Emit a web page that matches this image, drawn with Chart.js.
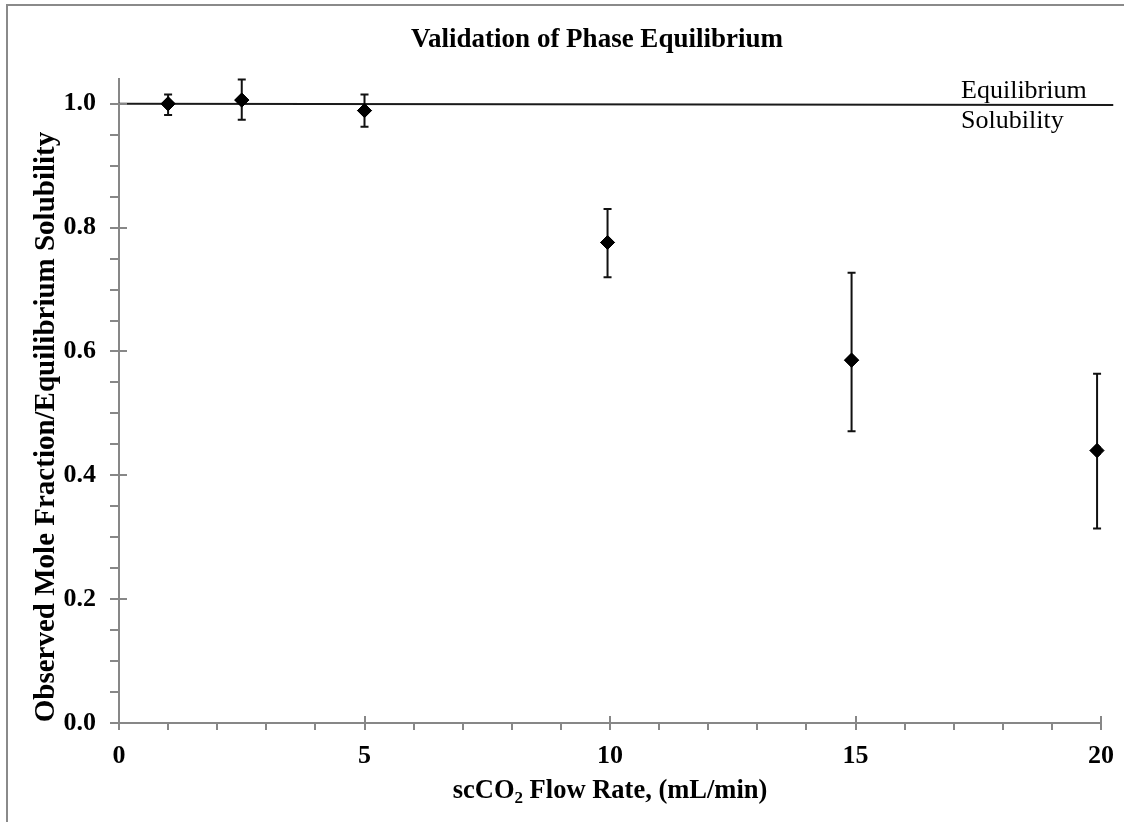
<!DOCTYPE html>
<html>
<head>
<meta charset="utf-8">
<script src="https://cdn.jsdelivr.net/npm/chart.js@4.4.1/dist/chart.umd.min.js"></script>
<style>
  html, body { margin: 0; padding: 0; background: #fff; }
  #wrap { position: relative; width: 1124px; height: 822px; overflow: hidden; }
  #frame { position: absolute; left: 6px; top: 4px; width: 1200px; height: 900px;
           border-left: 2px solid #8a8a8a; border-top: 2px solid #8a8a8a; }
  canvas { position: absolute; left: 0; top: 0; }
</style>
</head>
<body>
<div id="wrap">
  <div id="frame"></div>
  <canvas id="chart" width="1124" height="822"></canvas>
</div>
<script>
"use strict";

// flow rate (mL/min) vs observed / equilibrium ratio
const flowRate = [1, 2.5, 5, 9.95, 14.92, 19.92];
const ratio    = [1.000, 1.006, 0.989, 0.776, 0.586, 0.440];
const errHigh  = [1.015, 1.039, 1.015, 0.830, 0.727, 0.564];
const errLow   = [0.982, 0.974, 0.963, 0.720, 0.471, 0.314];

// equilibrium solubility line
const eqX = [0, 20.25];
const eqY = [1.000, 0.998];

const xTicks = [0, 5, 10, 15, 20];
const xMinor = [1, 2, 3, 4, 6, 7, 8, 9, 11, 12, 13, 14, 16, 17, 18, 19];
const yTicks = [0, 0.2, 0.4, 0.6, 0.8, 1.0];
const yMinor = [0.05, 0.1, 0.15, 0.25, 0.3, 0.35, 0.45, 0.5, 0.55, 0.65, 0.7, 0.75, 0.85, 0.9, 0.95];

const titleText = "Validation of Phase Equilibrium";
const yTitle = "Observed Mole Fraction/Equilibrium Solubility";

const SERIF = "'Liberation Serif', 'Times New Roman', serif";
const AXIS_GREY = "#878787";

const extras = {
    id: "extras",
    afterDraw(chart) {
        const ctx = chart.ctx;
        const xs = chart.scales.x, ys = chart.scales.y;
        const x0 = xs.left, y0 = ys.bottom;
        ctx.save();

        // tick marks
        ctx.strokeStyle = AXIS_GREY;
        ctx.lineWidth = 2;
        ctx.beginPath();
        yTicks.forEach(v => {
            const p = Math.round(ys.getPixelForValue(v));
            ctx.moveTo(x0 - 9, p); ctx.lineTo(x0 + 8, p);
        });
        yMinor.forEach(v => {
            const p = Math.round(ys.getPixelForValue(v));
            ctx.moveTo(x0 - 9, p); ctx.lineTo(x0, p);
        });
        xTicks.forEach(v => {
            const p = Math.round(xs.getPixelForValue(v));
            ctx.moveTo(p, y0 - 7); ctx.lineTo(p, y0 + 7);
        });
        xMinor.forEach(v => {
            const p = Math.round(xs.getPixelForValue(v));
            ctx.moveTo(p, y0); ctx.lineTo(p, y0 + 7);
        });
        ctx.stroke();

        // error bars
        ctx.strokeStyle = "#111";
        ctx.lineWidth = 2;
        ctx.beginPath();
        for (let i = 0; i < flowRate.length; i++) {
            const px = xs.getPixelForValue(flowRate[i]);
            const hi = ys.getPixelForValue(errHigh[i]);
            const lo = ys.getPixelForValue(errLow[i]);
            ctx.moveTo(px, hi); ctx.lineTo(px, lo);
            ctx.moveTo(px - 4, hi); ctx.lineTo(px + 4, hi);
            ctx.moveTo(px - 4, lo); ctx.lineTo(px + 4, lo);
        }
        ctx.stroke();

        // redraw markers over the bars
        chart.getDatasetMeta(1).data.forEach(el => el.draw(ctx));

        ctx.fillStyle = "#000";
        // chart title
        ctx.font = "bold 27px " + SERIF;
        ctx.textAlign = "center";
        ctx.textBaseline = "alphabetic";
        ctx.fillText(titleText, 597, 47);

        // y axis title
        ctx.save();
        ctx.translate(54, 427);
        ctx.rotate(-Math.PI / 2);
        ctx.font = "bold 29px " + SERIF;
        ctx.fillText(yTitle, 0, 0);
        ctx.restore();

        // x axis title with subscript
        const big = "bold 26.5px " + SERIF, small = "bold 17px " + SERIF;
        const p1 = "scCO", p2 = "2", p3 = " Flow Rate, (mL/min)";
        ctx.font = big; const w1 = ctx.measureText(p1).width, w3 = ctx.measureText(p3).width;
        ctx.font = small; const w2 = ctx.measureText(p2).width;
        let tx = (xs.left + xs.right) / 2 - (w1 + w2 + w3) / 2;
        const ty = 798;
        ctx.textAlign = "left";
        ctx.font = big; ctx.fillText(p1, tx, ty); tx += w1;
        ctx.font = small; ctx.fillText(p2, tx, ty + 5); tx += w2;
        ctx.font = big; ctx.fillText(p3, tx, ty);

        // line label
        ctx.font = "26px " + SERIF;
        const lx = xs.getPixelForValue(17.15);
        const ly = ys.getPixelForValue(1.0);
        ctx.fillText("Equilibrium", lx, ly - 6);
        ctx.fillText("Solubility", lx, ly + 24);

        ctx.restore();
    }
};

new Chart(document.getElementById("chart"), {
    type: "scatter",
    data: {
        datasets: [{
            type: "line",
            label: "Equilibrium Solubility",
            data: eqX.map((x, i) => ({ x: x, y: eqY[i] })),
            borderColor: "#1a1a1a",
            borderWidth: 2,
            pointRadius: 0,
            clip: false,
            order: 2
        }, {
            label: "Observed",
            data: flowRate.map((x, i) => ({ x: x, y: ratio[i] })),
            pointStyle: "rectRot",
            pointRadius: 7,
            backgroundColor: "#000",
            borderColor: "#000",
            borderWidth: 1,
            order: 1
        }]
    },
    options: {
        responsive: false,
        animation: false,
        layout: { padding: { top: 79, right: 23, left: 0, bottom: 0 } },
        plugins: {
            legend: { display: false },
            tooltip: { enabled: false },
            title: { display: false }
        },
        scales: {
            x: {
                type: "linear",
                min: 0,
                max: 20,
                afterFit: s => { s.height = 99; s.paddingLeft = 0; s.paddingRight = 0; },
                afterBuildTicks: s => { s.ticks = xTicks.map(v => ({ value: v })); },
                grid: { display: false, drawTicks: false },
                border: { display: true, color: AXIS_GREY, width: 2 },
                ticks: {
                    color: "#000",
                    padding: 18,
                    maxRotation: 0,
                    font: { family: SERIF, size: 26, weight: "bold" }
                }
            },
            y: {
                type: "linear",
                min: 0,
                max: 1.04,
                afterFit: s => { s.width = 119; s.paddingTop = 0; s.paddingBottom = 0; },
                afterBuildTicks: s => { s.ticks = yTicks.map(v => ({ value: v })); },
                grid: { display: false, drawTicks: false },
                border: { display: true, color: AXIS_GREY, width: 2 },
                ticks: {
                    color: "#000",
                    padding: 23,
                    font: { family: SERIF, size: 26, weight: "bold" },
                    callback: v => Number(v).toFixed(1)
                }
            }
        }
    },
    plugins: [extras]
});
</script>
</body>
</html>
